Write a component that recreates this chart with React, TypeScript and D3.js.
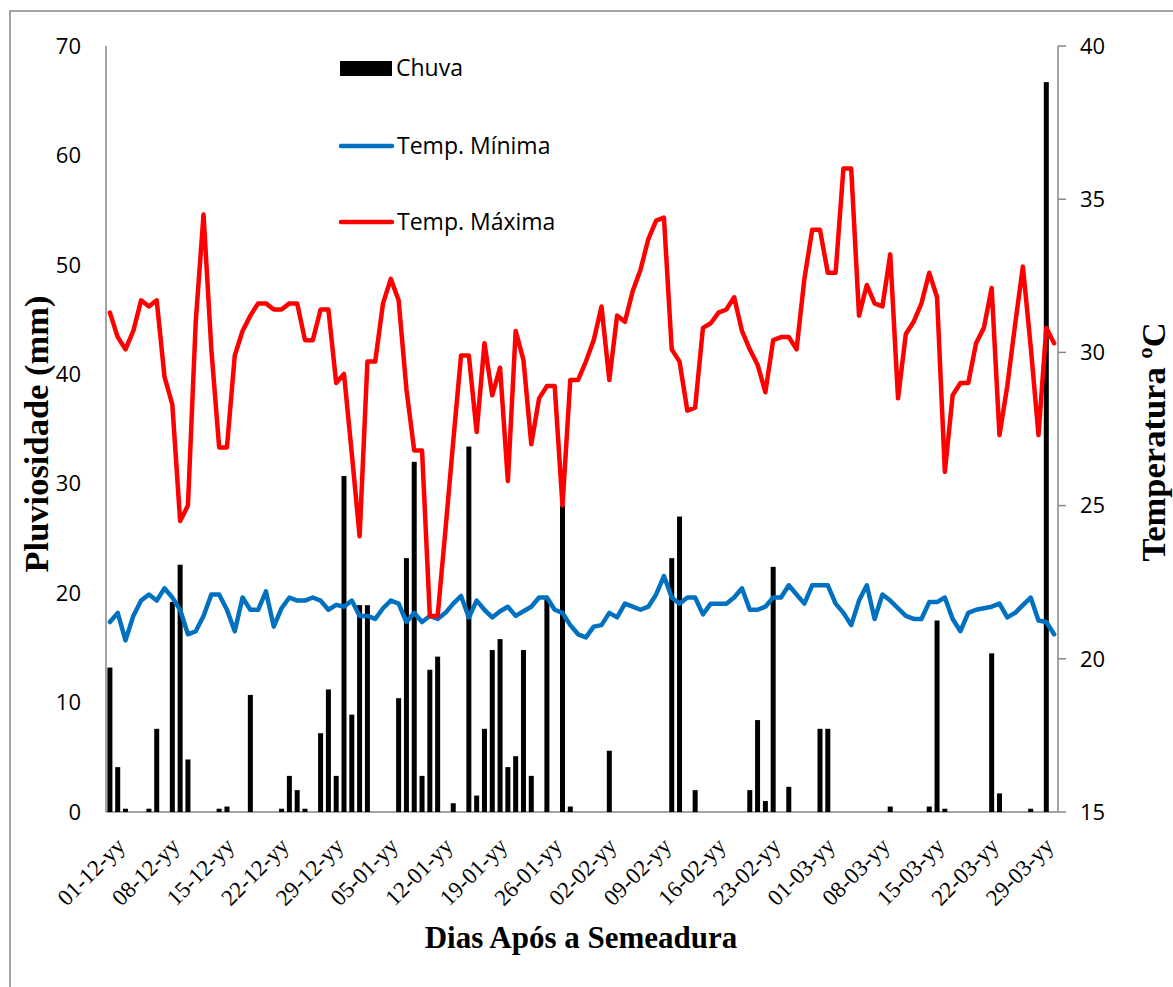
import React from "react";
import * as d3 from "d3";

const startDate = new Date(2011, 11, 1);
const endDate = new Date(2012, 3, 1);
const days = d3.timeDay.range(startDate, endDate);

const tickLabels = ["01-12-yy","08-12-yy","15-12-yy","22-12-yy","29-12-yy","05-01-yy","12-01-yy","19-01-yy","26-01-yy","02-02-yy","09-02-yy","16-02-yy","23-02-yy","01-03-yy","08-03-yy","15-03-yy","22-03-yy","29-03-yy"];

const tempMax = [31.3,30.5,30.1,30.7,31.7,31.5,31.7,29.2,28.3,24.5,25.0,31.0,34.5,30.1,26.9,26.9,29.9,30.7,31.2,31.6,31.6,31.4,31.4,31.6,31.6,30.4,30.4,31.4,31.4,29.0,29.3,26.7,24.0,29.7,29.7,31.6,32.4,31.7,28.8,26.8,26.8,21.4,21.4,24.2,27.1,29.9,29.9,27.4,30.3,28.6,29.5,25.8,30.7,29.75,27.0,28.5,28.9,28.9,25.0,29.1,29.1,29.7,30.4,31.5,29.1,31.2,31.0,32.0,32.7,33.7,34.3,34.4,30.1,29.7,28.1,28.2,30.8,30.95,31.3,31.4,31.8,30.7,30.1,29.6,28.7,30.4,30.5,30.5,30.1,32.4,34.0,34.0,32.6,32.6,36.0,36.0,31.2,32.2,31.6,31.5,33.2,28.5,30.6,31.0,31.6,32.6,31.8,26.1,28.6,29.0,29.0,30.3,30.8,32.1,27.3,28.9,30.9,32.8,30.2,27.3,30.8,30.3];

const tempMin = [21.2,21.5,20.6,21.4,21.9,22.1,21.9,22.3,22.0,21.6,20.8,20.9,21.4,22.1,22.1,21.6,20.9,22.0,21.6,21.6,22.2,21.05,21.65,22.0,21.9,21.9,22.0,21.9,21.6,21.76,21.7,21.9,21.4,21.4,21.3,21.65,21.9,21.8,21.2,21.5,21.2,21.4,21.3,21.5,21.8,22.05,21.35,21.9,21.6,21.35,21.55,21.7,21.4,21.55,21.7,22.0,22.0,21.6,21.5,21.1,20.8,20.7,21.05,21.1,21.5,21.35,21.8,21.7,21.6,21.7,22.1,22.7,22.0,21.8,22.0,22.0,21.45,21.8,21.8,21.8,22.0,22.3,21.6,21.6,21.7,22.0,22.0,22.4,22.1,21.8,22.4,22.4,22.4,21.8,21.5,21.1,21.9,22.4,21.3,22.1,21.9,21.65,21.4,21.3,21.3,21.85,21.85,22.0,21.3,20.9,21.5,21.6,21.65,21.7,21.8,21.35,21.5,21.75,22.0,21.25,21.2,20.8];

// rain: day index and mm
const rainDays = [0,1,2,5,6,8,9,10,14,15,18,22,23,24,25,27,28,29,30,31,32,33,37,38,39,40,41,42,44,46,47,48,49,50,51,52,53,54,56,58,59,64,72,73,75,82,83,84,85,87,91,92,100,105,106,107,113,114,118,120];
const rainMm = [13.2,4.1,0.3,0.3,7.6,19.2,22.6,4.8,0.3,0.5,10.7,0.3,3.3,2.0,0.3,7.2,11.2,3.3,30.7,8.9,18.9,18.9,10.4,23.2,32.0,3.3,13.0,14.2,0.8,33.4,1.5,7.6,14.8,15.8,4.1,5.1,14.8,3.3,19.5,28.0,0.5,5.6,23.2,27.0,2.0,2.0,8.4,1.0,22.4,2.3,7.6,7.6,0.5,0.5,17.5,0.3,14.5,1.7,0.3,66.7];

const leftTicks = [0,10,20,30,40,50,60,70];
const rightTicks = [15,20,25,30,35,40];

const W = 1173, H = 987;
const L = 106, R = 1058, T = 46, B = 812;
const sans = "'Open Sans', 'Liberation Sans', sans-serif";
const serif = "'Liberation Serif', 'Times New Roman', serif";
const axisGrey = "#868686";

export default function App() {
  const idx = days.map((_, i) => i);
  const x = d3.scaleBand<number>().domain(idx).range([L, R]).padding(0);
  const cx = (i: number) => (x(i) as number) + x.bandwidth() / 2;
  const yL = d3.scaleLinear().domain([0, 70]).range([B, T]);
  const yR = d3.scaleLinear().domain([15, 40]).range([B, T]);
  const line = d3.line<number>().x((_, i) => cx(i)).y((d) => yR(d));
  const rain = rainDays.map((d, k) => ({ i: d, v: rainMm[k] }));
  const barW = 5;

  return (
    <svg width={W} height={H} style={{ position: "absolute", left: 0, top: 0, background: "#fff" }}>
      <rect x={10} y={11} width={1300} height={1100} fill="#fff" stroke={axisGrey} strokeWidth={1.5} />
      {/* axes */}
      <line x1={L} x2={L} y1={T} y2={B} stroke={axisGrey} strokeWidth={1.5} />
      <line x1={L} x2={R} y1={B} y2={B} stroke={axisGrey} strokeWidth={1.5} />
      <line x1={R} x2={R} y1={T} y2={B} stroke={axisGrey} strokeWidth={1.5} />
      {rightTicks.map((t) => (
        <g key={"rt" + t}>
          <line x1={R} x2={R + 8} y1={yR(t)} y2={yR(t)} stroke={axisGrey} strokeWidth={1.5} />
          <text x={1080} y={yR(t)} dy="0.35em" fontFamily={sans} fontSize={22} fill="#000">{t}</text>
        </g>
      ))}
      {leftTicks.map((t) => (
        <text key={"lt" + t} x={81} y={yL(t)} dy="0.35em" textAnchor="end" fontFamily={sans} fontSize={22} fill="#000">{t}</text>
      ))}
      {/* bars */}
      {rain.map((r) => (
        <rect key={"b" + r.i} x={cx(r.i) - barW / 2} y={yL(r.v)} width={barW} height={B - yL(r.v)} fill="#000" />
      ))}
      {/* lines */}
      <path d={line(tempMin) || ""} fill="none" stroke="#0070C0" strokeWidth={4.5} strokeLinejoin="round" strokeLinecap="round" />
      <path d={line(tempMax) || ""} fill="none" stroke="#FF0000" strokeWidth={4.5} strokeLinejoin="round" strokeLinecap="round" />
      {/* x tick labels */}
      {tickLabels.map((lab, k) => {
        const px = cx(k * 7) + 5;
        const py = 836;
        return (
          <text key={lab} transform={`translate(${px},${py}) rotate(-45)`} textAnchor="end" dy="0.7em" fontFamily={serif} fontSize={23} fill="#000">{lab}</text>
        );
      })}
      {/* titles */}
      <text x={581} y={948} textAnchor="middle" fontFamily={serif} fontWeight="bold" fontSize={31} fill="#000">Dias Após a Semeadura</text>
      <text transform={`translate(48,434) rotate(-90)`} textAnchor="middle" fontFamily={serif} fontWeight="bold" fontSize={34.5} fill="#000">Pluviosidade (mm)</text>
      <text transform={`translate(1165,442) rotate(-90)`} textAnchor="middle" fontFamily={serif} fontWeight="bold" fontSize={34.5} fill="#000">Temperatura ºC</text>
      {/* legend */}
      <rect x={340} y={61} width={52} height={15} fill="#000" />
      <text x={396} y={68} dy="0.35em" fontFamily={sans} fontSize={23} fill="#000">Chuva</text>
      <line x1={341} x2={392} y1={146} y2={146} stroke="#0070C0" strokeWidth={4.5} strokeLinecap="round" />
      <text x={397} y={146} dy="0.35em" fontFamily={sans} fontSize={23} fill="#000">Temp. Mínima</text>
      <line x1={341} x2={392} y1={222} y2={222} stroke="#FF0000" strokeWidth={4.5} strokeLinecap="round" />
      <text x={397} y={222} dy="0.35em" fontFamily={sans} fontSize={23} fill="#000">Temp. Máxima</text>
    </svg>
  );
}
